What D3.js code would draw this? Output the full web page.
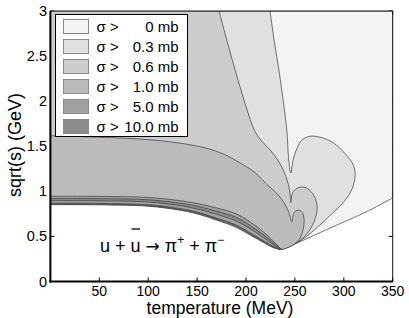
<!DOCTYPE html>
<html><head><meta charset="utf-8">
<script src="https://cdn.jsdelivr.net/npm/d3@7"></script>
<style>
body{margin:0;background:#fff}
svg{display:block}
text{font-family:"Liberation Sans",Arial,Helvetica,sans-serif;fill:#000}
</style>
</head><body>
<svg id="chart" width="409" height="318"></svg>
<script>
// ---------- data ----------
const levelLabels = ["0", "0.3", "0.6", "1.0", "5.0", "10.0"];
const levelColors = ["#f3f3f3", "#e0e0e0", "#cdcdcd", "#bbbbbb", "#a2a2a2", "#8b8b8b"];
const xTicks = [50, 100, 150, 200, 250, 300, 350];
const yTicks = [0, 0.5, 1, 1.5, 2, 2.5, 3];
const yTickLabels = ["0", "0.5", "1", "1.5", "2", "2.5", "3"];

// lower band lines (temperature grid, MeV) -> sqrt(s) in GeV
const bandT = [0, 50, 100, 130, 150, 170, 190, 205, 215, 225, 232];
const L0   = [0.852, 0.850, 0.835, 0.795, 0.750, 0.680, 0.600, 0.510, 0.450, 0.390, 0.362];
const L03  = [0.856, 0.854, 0.839, 0.799, 0.755, 0.685, 0.606, 0.516, 0.455, 0.394, 0.364];
const L06  = [0.860, 0.858, 0.844, 0.804, 0.760, 0.692, 0.614, 0.523, 0.461, 0.398, 0.366];
const L10  = [0.864, 0.862, 0.848, 0.809, 0.765, 0.698, 0.620, 0.529, 0.466, 0.402, 0.367];
const L5a  = [0.868, 0.866, 0.851, 0.813, 0.770, 0.703, 0.626, 0.535, 0.471, 0.405, 0.369];
const L10a = [0.897, 0.895, 0.882, 0.845, 0.805, 0.745, 0.672, 0.580, 0.510, 0.433, 0.381];
const L10b = [0.920, 0.919, 0.906, 0.872, 0.834, 0.779, 0.710, 0.616, 0.541, 0.456, 0.391];
const L5b  = [0.945, 0.944, 0.932, 0.900, 0.865, 0.815, 0.750, 0.655, 0.575, 0.480, 0.402];

// minimum of the threshold and its right-hand branch
const minPoint = [236, 0.356];
const L0right = [[236, 0.356], [245, 0.392], [255, 0.44], [290, 0.612], [324, 0.778], [350, 0.927]];

// contour boundaries [T (MeV), sqrt(s) (GeV)]
const edge03 = [[224.6, 3.0], [228.7, 2.679], [233.1, 2.383], [237.9, 2.015], [242.0, 1.646], [243.4, 1.387], [245.8, 1.203],
  [248.2, 1.351], [252.3, 1.483], [257.4, 1.572], [265.6, 1.611], [275.8, 1.600], [289.1, 1.539], [301.4, 1.417],
  [309.6, 1.295], [311.6, 1.185], [308.6, 1.030], [300.4, 0.886], [289.1, 0.764], [273.8, 0.609], [257.4, 0.465],
  [245.1, 0.397], [236, 0.356]];
const edge06 = [[172.4, 3.0], [181.7, 2.624], [190.9, 2.269], [201.1, 1.904], [209.3, 1.661], [217.5, 1.539], [224.6, 1.461],
  [232.8, 1.340], [238.9, 1.218], [243.4, 1.074], [245.1, 0.963], [245.8, 0.875],
  [247.7, 0.985], [252.3, 1.035], [259.4, 1.046], [266.6, 0.996], [271.7, 0.897], [272.7, 0.797], [269.7, 0.664],
  [262.5, 0.531], [253.3, 0.440], [241.0, 0.370], [236, 0.356]];
const edge10 = [[0, 1.616], [50.7, 1.600], [101.8, 1.572], [142.8, 1.517], [163.2, 1.467], [178.6, 1.406], [197.0, 1.295],
  [209.3, 1.207], [221.6, 1.074], [230.8, 0.985], [237.9, 0.889], [243.1, 0.786], [245.1, 0.720], [246.9, 0.664],
  [249.2, 0.764], [253.3, 0.792], [257.4, 0.769], [259.4, 0.686], [258.4, 0.576], [254.3, 0.465], [247.2, 0.399],
  [239.0, 0.362], [236, 0.356]];

// ---------- chart ----------
const svg = d3.select("#chart");
const x = d3.scaleLinear().domain([0, 350]).range([50.4, 392.7]);
const y = d3.scaleLinear().domain([0, 3]).range([281.5, 11]);

const zip = (t, s) => t.map((v, i) => [v, s[i]]);
const rev = a => a.slice().reverse();
const smooth = d3.line().x(d => x(d[0])).y(d => y(d[1])).curve(d3.curveCatmullRom.alpha(0.5));
function regionPath(pieces) {
  let d = "";
  pieces.forEach((p, i) => {
    let s = p.smooth ? smooth(p.pts) : "M" + p.pts.map(q => x(q[0]) + "," + y(q[1])).join("L");
    if (i > 0) s = "L" + s.slice(1);
    d += s;
  });
  return d + "Z";
}

// ticks (drawn beneath the filled contours)
const tk = svg.append("g").attr("stroke", "#000").attr("stroke-width", 1);
xTicks.forEach(t => {
  tk.append("line").attr("x1", x(t)).attr("x2", x(t)).attr("y1", y(0)).attr("y2", y(0) - 4);
  tk.append("line").attr("x1", x(t)).attr("x2", x(t)).attr("y1", y(3)).attr("y2", y(3) + 4);
});
yTicks.forEach(t => {
  tk.append("line").attr("x1", x(0)).attr("x2", x(0) + 4).attr("y1", y(t)).attr("y2", y(t));
  tk.append("line").attr("x1", x(350)).attr("x2", x(350) - 4).attr("y1", y(t)).attr("y2", y(t));
});

svg.append("clipPath").attr("id", "plotclip").append("rect")
  .attr("x", x(0)).attr("y", y(3)).attr("width", x(350) - x(0)).attr("height", y(0) - y(3));

const regions = [
  [{pts: [[0, 3], [350, 3]]}, {pts: rev(L0right), smooth: true}, {pts: [minPoint, ...rev(zip(bandT, L0))], smooth: true}],
  [{pts: [[0, 3]]}, {pts: edge03, smooth: true}, {pts: [minPoint, ...rev(zip(bandT, L03))], smooth: true}],
  [{pts: [[0, 3]]}, {pts: edge06, smooth: true}, {pts: [minPoint, ...rev(zip(bandT, L06))], smooth: true}],
  [{pts: edge10, smooth: true}, {pts: [minPoint, ...rev(zip(bandT, L10))], smooth: true}],
  [{pts: [...zip(bandT, L5b), minPoint], smooth: true}, {pts: [minPoint, ...rev(zip(bandT, L5a))], smooth: true}],
  [{pts: [...zip(bandT, L10b), minPoint], smooth: true}, {pts: [minPoint, ...rev(zip(bandT, L10a))], smooth: true}]
];
const gR = svg.append("g").attr("clip-path", "url(#plotclip)");
regions.forEach((r, i) => {
  gR.append("path").attr("d", regionPath(r))
    .attr("fill", levelColors[i]).attr("stroke", "#3a3a3a").attr("stroke-width", 0.7)
    .attr("stroke-linejoin", "round");
});

// frame
svg.append("rect").attr("x", x(0)).attr("y", y(3)).attr("width", x(350) - x(0)).attr("height", y(0) - y(3))
  .attr("fill", "none").attr("stroke", "#111").attr("stroke-width", 1);
svg.append("line").attr("x1", x(0)).attr("x2", x(0)).attr("y1", y(3)).attr("y2", y(0) + 1)
  .attr("stroke", "#000").attr("stroke-width", 2);
svg.append("line").attr("x1", x(0) - 1).attr("x2", x(350)).attr("y1", y(0)).attr("y2", y(0))
  .attr("stroke", "#000").attr("stroke-width", 2);

// tick labels
xTicks.forEach(t => {
  svg.append("text").attr("x", x(t)).attr("y", 295.5).attr("text-anchor", "middle")
    .attr("font-size", "14px").text(t);
});
yTicks.forEach((t, i) => {
  svg.append("text").attr("x", 47).attr("y", y(t) + 5).attr("text-anchor", "end")
    .attr("font-size", "14.5px").text(yTickLabels[i]);
});

// axis titles
svg.append("text").attr("x", 220).attr("y", 314).attr("text-anchor", "middle")
  .attr("font-size", "17.5px").text("temperature (MeV)");
svg.append("text").attr("transform", "translate(21,145) rotate(-90)").attr("text-anchor", "middle")
  .attr("font-size", "18px").text("sqrt(s) (GeV)");

// reaction annotation
const ann = svg.append("text").attr("x", 100).attr("y", 251.5).attr("font-size", "18px");
ann.append("tspan").text("u + u ");
ann.append("tspan").attr("font-family", "DejaVu Sans").attr("font-size", "17px").text("\u2192");
ann.append("tspan").text(" \u03c0");
ann.append("tspan").attr("dy", -8).attr("font-size", "12px").text("+");
ann.append("tspan").attr("dy", 8).text(" + \u03c0");
ann.append("tspan").attr("dy", -8).attr("font-size", "12px").text("\u2212");
const uStart = ann.node().getStartPositionOfChar(4).x;
const uEnd = ann.node().getEndPositionOfChar(4).x;
svg.append("line").attr("x1", uStart + 1).attr("x2", uEnd - 0.5).attr("y1", 229).attr("y2", 229)
  .attr("stroke", "#000").attr("stroke-width", 1.3);

// legend
const lg = svg.append("g");
lg.append("rect").attr("x", 55.5).attr("y", 14.5).attr("width", 132).attr("height", 122)
  .attr("fill", "#fff").attr("stroke", "#000").attr("stroke-width", 1);
levelLabels.forEach((lab, i) => {
  const top = 19 + i * 20;
  lg.append("rect").attr("x", 63.5).attr("y", top + 0.5).attr("width", 25).attr("height", 14)
    .attr("fill", levelColors[i]).attr("stroke", "#8a8a8a").attr("stroke-width", 1);
  lg.append("text").attr("x", 96.5).attr("y", top + 12.5).attr("font-size", "15px").text("\u03c3 >");
  lg.append("text").attr("x", 178.5).attr("y", top + 12.5).attr("font-size", "15px")
    .attr("text-anchor", "end").text(lab + " mb");
});
</script>
</body></html>
